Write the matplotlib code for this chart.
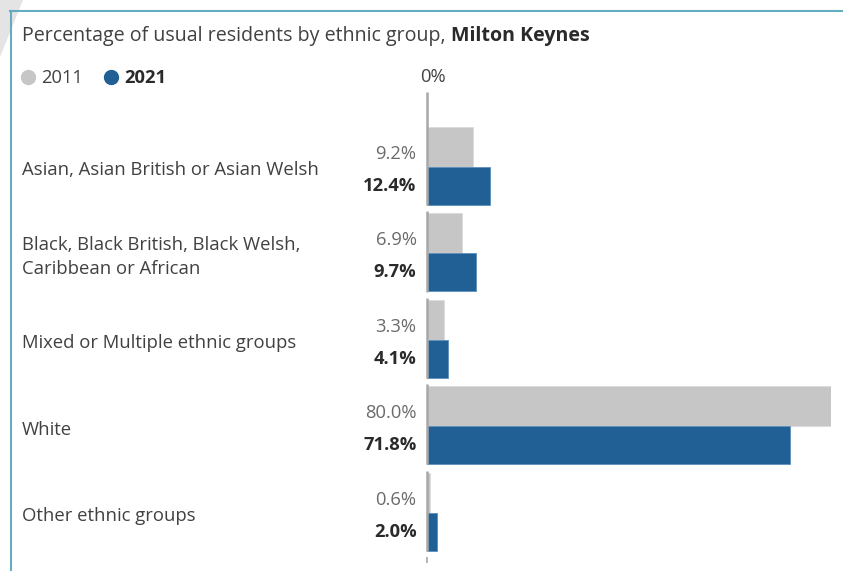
import matplotlib
matplotlib.use("Agg")
import matplotlib.pyplot as plt
import matplotlib.transforms as mtransforms
from matplotlib.lines import Line2D
from matplotlib.patches import Polygon
from matplotlib.text import Annotation
import numpy as np

plt.rcParams["font.family"] = ["Open Sans", "DejaVu Sans"]

categorie = [
    "Asian, Asian British or Asian Welsh",
    "Black, Black British, Black Welsh,\nCaribbean or African",
    "Mixed or Multiple ethnic groups",
    "White",
    "Other ethnic groups",
]
valori_2011 = [9.2, 6.9, 3.3, 80.0, 0.6]
valori_2021 = [12.4, 9.7, 4.1, 71.8, 2.0]
area = "Milton Keynes"

grigio = "#c6c6c6"
blu = "#206095"
testo = "#414042"
scuro = "#2a2a2a"

W, H = 843, 571
fig = plt.figure(figsize=(W / 100, H / 100), dpi=100)


def fx(x):
    return x / W


def fy(y):
    return 1 - y / H


# cornice e decorazione in alto a sinistra
fig.add_artist(Polygon([(fx(0), fy(0)), (fx(23), fy(0)), (fx(0), fy(57))],
                       closed=True, transform=fig.transFigure,
                       facecolor="#e4e4e4", edgecolor="none"))
fig.add_artist(Line2D([fx(10), fx(W)], [fy(10.5), fy(10.5)], color="#62adbf",
                      lw=1.5, transform=fig.transFigure))
fig.add_artist(Line2D([fx(10.5), fx(10.5)], [fy(10.5), fy(H)], color="#62adbf",
                      lw=1.5, transform=fig.transFigure))

# titolo
t = fig.text(fx(22), fy(35.5), "Percentage of usual residents by ethnic group, ",
             fontsize=14.1, color=testo, va="center", ha="left")
fig.add_artist(Annotation(area, xy=(1, 0.5), xycoords=t, va="center",
                          ha="left", fontsize=14.1, color=scuro,
                          fontweight="bold", annotation_clip=False))

# legenda
fig.add_artist(Line2D([fx(28)], [fy(77)], marker="o", ms=10, color=grigio,
                      transform=fig.transFigure))
fig.text(fx(41), fy(78), "2011", fontsize=13.2, color=testo, va="center")
fig.add_artist(Line2D([fx(111)], [fy(77)], marker="o", ms=10, color=blu,
                      transform=fig.transFigure))
fig.text(fx(124), fy(78), "2021", fontsize=13.2, color=scuro, va="center",
         fontweight="bold")

# grafico
ax = fig.add_axes([fx(427), fy(564.4), fx(831) - fx(427), (564.4 - 93) / H])
ax.set_xlim(0, 80)
ax.set_ylim(4.6, -0.85)
ax.axis("off")

pos = np.arange(len(categorie))
ax.barh(pos - 0.23, valori_2011, height=0.46, color=grigio, edgecolor="#dcdcdc",
        lw=0.6)
ax.barh(pos + 0.22, valori_2021, height=0.44, color=blu, edgecolor="#5d8fbd",
        lw=0.6)

# linea dello zero per gruppo
for i in pos:
    inizio = -0.86 if i == 0 else i - 0.48
    ax.plot([0, 0], [inizio, i + 0.445], color="#a8a8a8", lw=1.8,
            clip_on=False, solid_capstyle="butt")
ax.plot([0, 0], [pos[-1] + 0.51, pos[-1] + 0.58], color="#a8a8a8", lw=1.2,
        clip_on=False, solid_capstyle="butt")

ax.text(1.2, -1.04, "0%", fontsize=13.2, color=testo, ha="center",
        va="center", clip_on=False)

trans = mtransforms.blended_transform_factory(fig.transFigure, ax.transData)
for i, (cat, v1, v2) in enumerate(zip(categorie, valori_2011, valori_2021)):
    ax.text(fx(22), i + 0.045, cat, transform=trans, fontsize=13.3,
            color=testo, ha="left", va="center", linespacing=1.38)
    ax.annotate(f"{v1:.1f}%", xy=(0, i - 0.15), xytext=(-7.5, 0),
                textcoords="offset points", ha="right", va="center",
                fontsize=13.2, color="#6b6b6b")
    ax.annotate(f"{v2:.1f}%", xy=(0, i + 0.22), xytext=(-7.5, 0),
                textcoords="offset points", ha="right", va="center",
                fontsize=13.2, color=scuro, fontweight="bold")

fig.savefig("out.png", dpi=100)
plt.close()
